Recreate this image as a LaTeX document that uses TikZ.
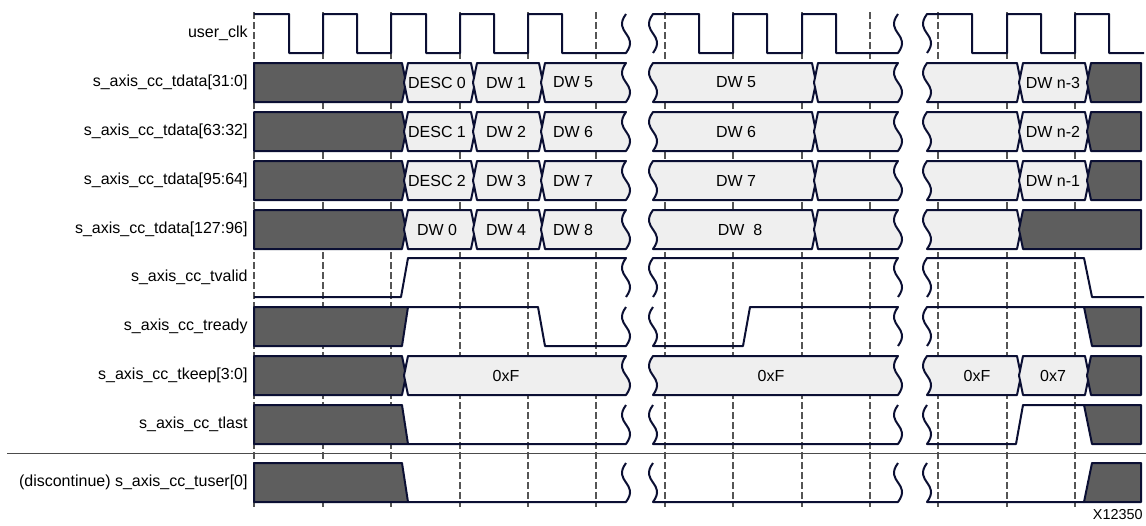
\documentclass[tikz,border=0pt]{standalone}
\usepackage{fontspec}
\setmainfont{Liberation Sans}
\definecolor{wavec}{HTML}{0B0F33}
\definecolor{darkc}{HTML}{5E5E5E}
\definecolor{lightc}{HTML}{EFEFEF}
\definecolor{gridc}{HTML}{555555}
\tikzset{
  wave/.style={draw=wavec, line width=1pt, line join=round},
  busd/.style={wave, fill=darkc},
  busl/.style={wave, fill=lightc},
  gridln/.style={draw=gridc, line width=0.6pt, dash pattern=on 3.3pt off 1.7pt},
  sepln/.style={draw=black!70, line width=0.8pt},
  sqd/.style={to path={.. controls +(-14,19) and +(14,-19) .. (\tikztotarget)}},
  squ/.style={to path={.. controls +(14,-19) and +(-14,19) .. (\tikztotarget)}},
  sig/.style={anchor=east, font=\fontsize{8}{10}\selectfont, inner sep=0pt},
  val/.style={font=\fontsize{8}{10}\selectfont, inner sep=0pt},
}
\begin{document}
\begin{tikzpicture}[x=0.5pt, y=-0.5pt]
  \useasboundingbox (0,0) rectangle (1146,525);

  % clock grid
  \foreach \g in {254,323,391,460,528,596,665,733,802,870,938,1007,1075}
    \draw[gridln] (\g,12) -- (\g,507);

  % signal names
  \node[sig] (lclk) at (248,33.5) {user\_clk};
  \node[sig] (ld0) at (248,82.5) {s\_axis\_cc\_tdata[31:0]};
  \node[sig] (ld1) at (248,131.5) {s\_axis\_cc\_tdata[63:32]};
  \node[sig] (ld2) at (248,180.5) {s\_axis\_cc\_tdata[95:64]};
  \node[sig] (ld3) at (248,229.5) {s\_axis\_cc\_tdata[127:96]};
  \node[sig] (lvalid) at (248,277.5) {s\_axis\_cc\_tvalid};
  \node[sig] (lready) at (248,326.5) {s\_axis\_cc\_tready};
  \node[sig] (lkeep) at (248,375.5) {s\_axis\_cc\_tkeep[3:0]};
  \node[sig] (llast) at (248,424.5) {s\_axis\_cc\_tlast};
  \node[sig] (luser) at (248,482.5) {(discontinue) s\_axis\_cc\_tuser[0]};

  % user_clk
  \draw[wave] (254,14) -- (289,14) -- (289,53) -- (323,53) -- (323,14) -- (357,14) -- (357,53) -- (391,53) -- (391,14) -- (426,14) -- (426,53) -- (460,53) -- (460,14) -- (494,14) -- (494,53) -- (528,53) -- (528,14) -- (562,14) -- (562,53) -- (626,53) to[squ] (626,14);
  \draw[wave] (653,53) to[squ] (653,14) -- (699,14) -- (699,53) -- (733,53) -- (733,14) -- (767,14) -- (767,53) -- (802,53) -- (802,14) -- (836,14) -- (836,53) -- (898,53) to[squ] (898,14);
  \draw[wave] (927,53) to[squ] (927,14) -- (972,14) -- (972,53) -- (1007,53) -- (1007,14) -- (1041,14) -- (1041,53) -- (1075,53) -- (1075,14) -- (1109,14) -- (1109,53) -- (1144,53);

  % tdata[95:0]
  \foreach \t/\da/\db/\dc/\dn in {63/DESC 0/DW 1/DW 5/DW n-3, 112/DESC 1/DW 2/DW 6/DW n-2, 161/DESC 2/DW 3/DW 7/DW n-1} {
    \begin{scope}[shift={(0,\t)}]
      \draw[busd] (254,0) -- (402,0) -- (406,19.5) -- (402,39) -- (254,39) -- cycle;
      \draw[busl] (408,0) -- (471,0) -- (475,19.5) -- (471,39) -- (408,39) -- (404,19.5) -- cycle;
      \node[val] (a\t) at (437,19.5) {\da};
      \draw[busl] (477,0) -- (539,0) -- (543,19.5) -- (539,39) -- (477,39) -- (473,19.5) -- cycle;
      \node[val] (b\t) at (506,19.5) {\db};
      \draw[busl] (545,0) -- (626,0) to[sqd] (626,39) -- (545,39) -- (541,19.5) -- cycle;
      \node[val] (c\t) at (573,19.5) {\dc};
      \draw[busl] (653,39) to[squ] (653,0) -- (812,0) -- (816,19.5) -- (812,39) -- cycle;
      \node[val] (e\t) at (736,19.5) {\dc};
      \draw[busl] (818,0) -- (898,0) to[sqd] (898,39) -- (818,39) -- (814,19.5) -- cycle;
      \draw[busl] (927,39) to[squ] (927,0) -- (1017,0) -- (1021,19.5) -- (1017,39) -- cycle;
      \draw[busl] (1023,0) -- (1085,0) -- (1089,19.5) -- (1085,39) -- (1023,39) -- (1019,19.5) -- cycle;
      \node[val] (n\t) at (1053,19.5) {\dn};
      \draw[busd] (1091,0) -- (1141,0) -- (1141,39) -- (1091,39) -- (1087,19.5) -- cycle;
    \end{scope}
  }

  % tdata[127:96]
  \begin{scope}[shift={(0,210)}]
    \draw[busd] (254,0) -- (402,0) -- (406,19.5) -- (402,39) -- (254,39) -- cycle;
    \draw[busl] (408,0) -- (471,0) -- (475,19.5) -- (471,39) -- (408,39) -- (404,19.5) -- cycle;
    \node[val] (w0) at (437,19.5) {DW 0};
    \draw[busl] (477,0) -- (539,0) -- (543,19.5) -- (539,39) -- (477,39) -- (473,19.5) -- cycle;
    \node[val] (w4) at (506,19.5) {DW 4};
    \draw[busl] (545,0) -- (626,0) to[sqd] (626,39) -- (545,39) -- (541,19.5) -- cycle;
    \node[val] (w8) at (573,19.5) {DW 8};
    \draw[busl] (653,39) to[squ] (653,0) -- (812,0) -- (816,19.5) -- (812,39) -- cycle;
    \node[val] (w8b) at (740,19.5) {DW\ \ 8};
    \draw[busl] (818,0) -- (898,0) to[sqd] (898,39) -- (818,39) -- (814,19.5) -- cycle;
    \draw[busl] (927,39) to[squ] (927,0) -- (1017,0) -- (1021,19.5) -- (1017,39) -- cycle;
    \draw[busd] (1023,0) -- (1141,0) -- (1141,39) -- (1023,39) -- (1019,19.5) -- cycle;
  \end{scope}

  % tvalid
  \begin{scope}[shift={(0,258)}]
    \draw[wave] (254,39) -- (401,39) -- (408,0) -- (626,0) to[sqd] (626,39);
    \draw[wave] (653,39) to[squ] (653,0) -- (898,0) to[sqd] (898,39);
    \draw[wave] (927,39) to[squ] (927,0) -- (1084,0) -- (1092,39) -- (1144,39);
  \end{scope}

  % tready
  \begin{scope}[shift={(0,307)}]
    \draw[busd] (254,0) -- (408,0) -- (402,39) -- (254,39) -- cycle;
    \draw[wave] (408,0) -- (538,0) -- (545,39) -- (626,39) to[squ] (626,0);
    \draw[wave] (653,0) to[sqd] (653,39) -- (743,39) -- (750,0) -- (898,0) to[sqd] (898,39);
    \draw[wave] (927,39) to[squ] (927,0) -- (1084,0);
    \draw[busd] (1084,0) -- (1141,0) -- (1141,39) -- (1092,39) -- cycle;
  \end{scope}

  % tkeep
  \begin{scope}[shift={(0,356)}]
    \draw[busd] (254,0) -- (402,0) -- (406,19.5) -- (402,39) -- (254,39) -- cycle;
    \draw[busl] (408,0) -- (626,0) to[sqd] (626,39) -- (408,39) -- (404,19.5) -- cycle;
    \node[val] (kf1) at (506,19.5) {0xF};
    \draw[busl] (653,39) to[squ] (653,0) -- (898,0) to[sqd] (898,39) -- cycle;
    \node[val] (kf2) at (771,19.5) {0xF};
    \draw[busl] (927,39) to[squ] (927,0) -- (1017,0) -- (1021,19.5) -- (1017,39) -- cycle;
    \node[val] (kf3) at (977,19.5) {0xF};
    \draw[busl] (1023,0) -- (1085,0) -- (1089,19.5) -- (1085,39) -- (1023,39) -- (1019,19.5) -- cycle;
    \node[val] (k7) at (1053,19.5) {0x7};
    \draw[busd] (1091,0) -- (1141,0) -- (1141,39) -- (1091,39) -- (1087,19.5) -- cycle;
  \end{scope}

  % tlast
  \begin{scope}[shift={(0,405)}]
    \draw[busd] (254,0) -- (402,0) -- (408,39) -- (254,39) -- cycle;
    \draw[wave] (408,39) -- (626,39) to[squ] (626,0);
    \draw[wave] (653,0) to[sqd] (653,39) -- (898,39) to[squ] (898,0);
    \draw[wave] (927,0) to[sqd] (927,39) -- (1016,39) -- (1023,0) -- (1084,0);
    \draw[busd] (1084,0) -- (1141,0) -- (1141,39) -- (1092,39) -- cycle;
  \end{scope}

  \draw[sepln] (7,453.5) -- (1146,453.5);

  % tuser
  \begin{scope}[shift={(0,463)}]
    \draw[busd] (254,0) -- (402,0) -- (408,39) -- (254,39) -- cycle;
    \draw[wave] (408,39) -- (626,39) to[squ] (626,0);
    \draw[wave] (653,0) to[sqd] (653,39) -- (898,39) to[squ] (898,0);
    \draw[wave] (927,0) to[sqd] (927,39) -- (1084,39);
    \draw[busd] (1084,39) -- (1092,0) -- (1141,0) -- (1141,39) -- cycle;
  \end{scope}

  \node[anchor=east, font=\fontsize{7.2}{9}\selectfont, inner sep=0pt] (figno) at (1143,515) {X12350};
\end{tikzpicture}
\end{document}
